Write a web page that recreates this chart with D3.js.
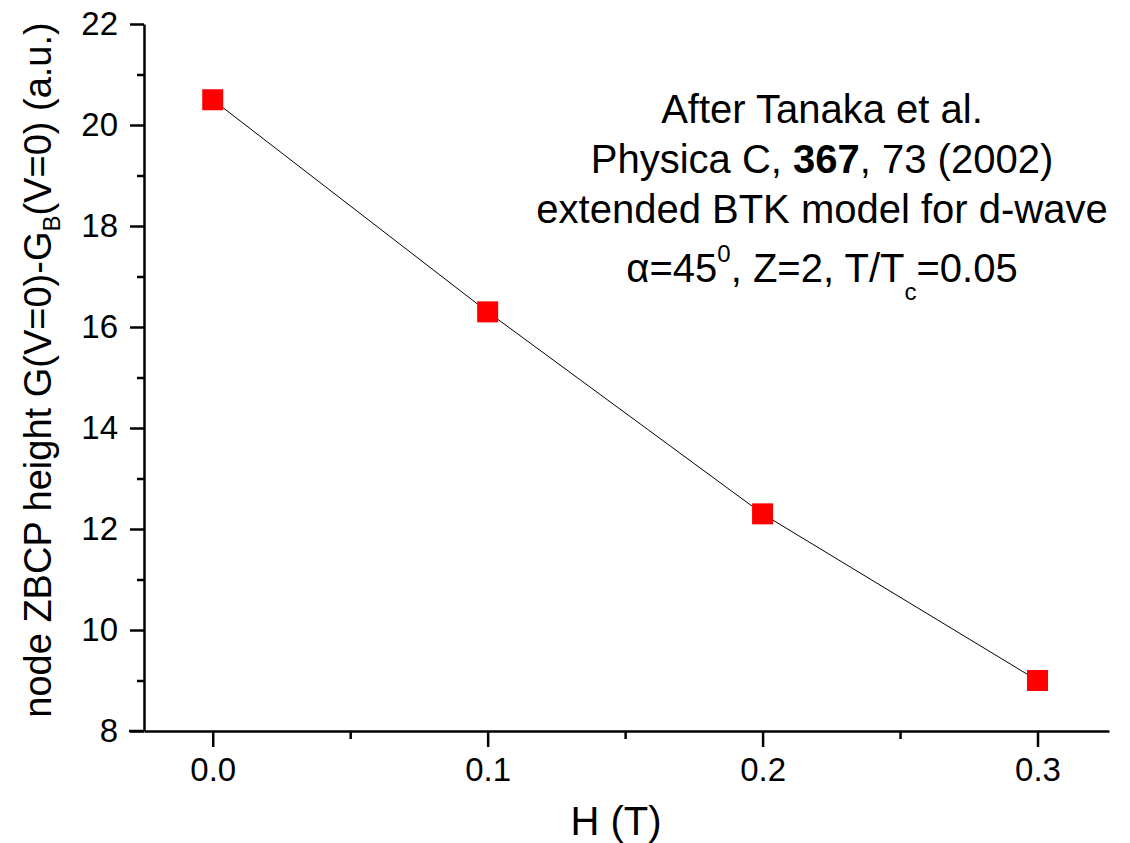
<!DOCTYPE html>
<html>
<head>
<meta charset="utf-8">
<script src="https://cdn.jsdelivr.net/npm/d3@7"></script>
<style>
  body { margin: 0; background: #fff; }
  svg { display: block; font-family: "Liberation Sans", Arial, sans-serif; }
</style>
</head>
<body>
<svg id="chart" width="1130" height="843"></svg>
<script>
// data
var fieldT = [0.0, 0.1, 0.2, 0.3];
var zbcpHeight = [20.5, 16.3, 12.3, 9.0];
var xTicks = [0.0, 0.1, 0.2, 0.3];
var xMinor = [0.05, 0.15, 0.25];
var yTicks = [8, 10, 12, 14, 16, 18, 20, 22];
var yMinor = [9, 11, 13, 15, 17, 19, 21];

var svg = d3.select("#chart");
var plotLeft = 144, plotRight = 1109, plotTop = 24, plotBottom = 731;

var x = d3.scaleLinear().domain([-0.025, 0.326]).range([plotLeft, plotRight]);
var y = d3.scaleLinear().domain([8, 22]).range([plotBottom, plotTop]);

// minor ticks first
svg.append("g")
    .attr("transform", "translate(0," + plotBottom + ")")
    .call(d3.axisBottom(x).tickValues(xMinor).tickSize(8).tickFormat(""))
    .call(function(g) { g.select(".domain").remove(); })
    .selectAll("line").attr("stroke-width", 2.5);

svg.append("g")
    .attr("transform", "translate(" + plotLeft + ",0)")
    .call(d3.axisLeft(y).tickValues(yMinor).tickSize(7).tickFormat(""))
    .call(function(g) { g.select(".domain").remove(); })
    .selectAll("line").attr("stroke-width", 2.5);

// major axes
var xAxis = svg.append("g")
    .attr("transform", "translate(0," + plotBottom + ")")
    .call(d3.axisBottom(x).tickValues(xTicks).tickSize(16).tickSizeOuter(0).tickPadding(11)
        .tickFormat(d3.format(".1f")));

var yAxis = svg.append("g")
    .attr("transform", "translate(" + plotLeft + ",0)")
    .call(d3.axisLeft(y).tickValues(yTicks).tickSize(14).tickSizeOuter(0).tickPadding(12));

[xAxis, yAxis].forEach(function(g) {
  g.attr("font-size", 33).attr("font-family", "Liberation Sans, Arial, sans-serif");
  g.select(".domain").attr("stroke-width", 2.5);
  g.selectAll("line").attr("stroke-width", 2.5);
  g.selectAll("text").attr("fill", "#000");
});

// the leftmost tick of the x axis runs past the y axis
svg.append("line")
    .attr("x1", plotLeft - 15).attr("x2", plotLeft)
    .attr("y1", plotBottom).attr("y2", plotBottom)
    .attr("stroke", "#000").attr("stroke-width", 2.5);

// connecting line
var line = d3.line()
    .x(function(d, i) { return x(fieldT[i]); })
    .y(function(d) { return y(d); });

svg.append("path")
    .datum(zbcpHeight)
    .attr("d", line)
    .attr("fill", "none")
    .attr("stroke", "#000")
    .attr("stroke-width", 1);

// square markers
var sq = 21;
svg.selectAll("rect.pt")
    .data(zbcpHeight)
    .enter().append("rect")
    .attr("class", "pt")
    .attr("x", function(d, i) { return x(fieldT[i]) - sq / 2; })
    .attr("y", function(d) { return y(d) - sq / 2; })
    .attr("width", sq).attr("height", sq)
    .attr("fill", "#ff0000");

// axis titles
svg.append("text")
    .attr("x", 616).attr("y", 835)
    .attr("text-anchor", "middle")
    .attr("font-size", 40)
    .text("H (T)");

var yt = svg.append("text")
    .attr("transform", "translate(51,370) rotate(-90)")
    .attr("text-anchor", "middle")
    .attr("font-size", 38);
yt.append("tspan").text("node ZBCP height G(V=0)-G");
yt.append("tspan").attr("font-size", 24).attr("dy", 9).text("B");
yt.append("tspan").attr("dy", -9).text("(V=0) (a.u.)");

// annotation
var ann = svg.append("g").attr("font-size", 40).attr("text-anchor", "middle");
var cx = 822;
ann.append("text").attr("x", cx).attr("y", 123).text("After Tanaka et al.");
var l2 = ann.append("text").attr("x", cx).attr("y", 173);
l2.append("tspan").text("Physica C, ");
l2.append("tspan").attr("font-weight", "bold").text("367");
l2.append("tspan").text(", 73 (2002)");
ann.append("text").attr("x", cx).attr("y", 223).text("extended BTK model for d-wave");
var l4 = ann.append("text").attr("x", cx).attr("y", 282);
l4.append("tspan").text("\u03b1=45");
l4.append("tspan").attr("font-size", 24).attr("dy", -20).text("0");
l4.append("tspan").attr("dy", 20).text(", Z=2, T/T");
l4.append("tspan").attr("font-size", 24).attr("dy", 18).text("c");
l4.append("tspan").attr("dy", -18).text("=0.05");
</script>
</body>
</html>
